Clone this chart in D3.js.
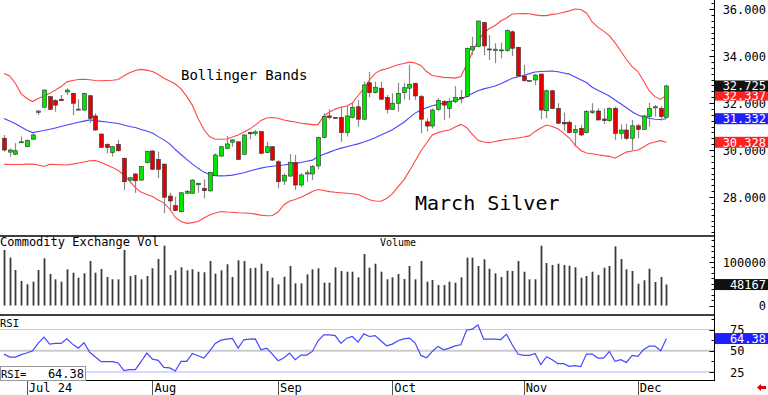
<!DOCTYPE html>
<html><head><meta charset="utf-8">
<script src="https://cdn.jsdelivr.net/npm/d3@7/dist/d3.min.js"></script>
<style>
html,body{margin:0;padding:0;background:#fff;}
svg{display:block;font-family:"DejaVu Sans Mono",monospace;}
</style></head>
<body><svg id="c" width="768" height="395"></svg>
<script>
// ---------- DATA (March Silver, daily) ----------
const opens = [30.50,29.91,29.82,30.31,30.14,30.46,31.60,31.82,32.27,32.10,32.16,32.47,32.41,31.71,31.70,32.31,31.45,30.68,30.24,29.89,30.24,29.65,28.72,28.98,28.72,29.46,29.96,29.60,29.40,28.04,27.63,27.37,28.16,28.16,28.52,28.37,28.26,28.91,29.74,30.07,30.33,30.35,29.82,30.74,30.71,30.78,29.89,30.14,29.50,28.68,28.89,29.46,28.51,28.98,28.98,29.32,30.54,31.45,31.39,31.39,30.74,31.39,31.84,31.31,32.86,32.44,32.63,32.24,31.73,31.99,32.44,32.63,32.84,32.27,31.20,31.02,31.73,32.06,31.77,32.06,32.24,32.27,34.26,34.40,35.42,34.30,34.23,34.24,34.23,35.03,34.37,33.15,32.94,32.98,33.23,31.67,32.52,31.77,31.18,31.18,30.74,30.92,30.74,31.59,31.66,31.32,31.25,31.77,30.71,30.85,30.50,31.03,30.88,31.42,31.79,31.77,31.39];
const highs = [30.64,30.07,30.29,30.57,30.46,30.71,31.70,32.58,32.30,32.16,32.34,32.63,32.43,32.16,32.44,32.34,31.56,30.70,30.29,30.17,30.43,29.67,28.84,29.01,29.31,29.96,29.98,29.93,29.42,28.18,28.01,28.20,28.30,28.75,28.61,28.75,29.08,29.86,30.17,30.60,30.46,30.36,30.67,30.78,30.85,30.80,30.35,30.17,29.57,29.01,29.83,29.79,29.01,29.15,29.36,30.57,31.56,31.73,31.40,31.87,31.91,32.01,32.13,32.91,33.33,32.91,32.91,32.34,32.41,32.86,32.86,33.62,32.86,32.34,31.35,31.77,32.20,32.13,32.20,32.72,32.55,34.35,34.82,35.50,35.46,34.89,34.54,34.57,35.14,35.08,34.40,33.62,32.98,33.23,33.26,32.58,32.55,31.99,31.59,31.25,31.06,31.06,31.70,31.99,31.77,31.77,31.82,31.84,31.09,31.11,31.28,31.11,31.49,32.01,31.91,31.87,32.78];
const lows = [29.93,29.72,29.79,30.29,30.12,30.43,31.49,31.82,31.70,31.63,32.08,32.34,31.49,31.70,31.67,31.14,30.82,30.09,29.86,29.72,29.93,28.30,28.58,28.18,28.70,29.43,29.16,28.80,27.31,27.45,27.40,27.35,28.13,28.13,28.18,27.94,28.23,28.89,29.72,30.05,30.14,29.58,29.79,30.46,30.60,29.84,29.86,29.54,28.37,28.51,28.86,28.30,28.44,28.65,28.72,29.18,30.50,31.31,31.35,30.35,30.57,31.35,30.99,31.28,32.24,32.41,32.14,31.56,31.70,31.63,32.16,32.13,32.13,30.71,30.78,30.92,31.67,31.28,31.35,31.99,31.99,32.24,34.04,34.38,34.04,33.83,33.69,33.90,34.18,34.00,33.11,32.91,32.92,32.77,31.31,31.35,31.75,31.11,30.82,30.71,30.14,30.60,30.71,31.53,31.25,31.11,31.20,30.43,30.46,30.43,30.00,30.50,30.85,30.99,31.42,31.25,31.35];
const closes = [30.00,30.00,29.97,30.35,30.40,30.64,31.66,32.55,31.73,31.91,32.10,32.55,31.99,31.74,32.41,31.35,30.85,30.11,30.10,30.14,29.97,28.65,28.82,28.69,29.29,29.93,29.18,29.18,27.99,27.83,27.42,28.18,28.23,28.72,28.58,28.27,29.05,29.79,30.14,30.26,30.43,29.60,30.64,30.69,30.77,29.86,30.14,29.57,28.65,28.91,29.48,28.51,28.94,29.03,29.29,30.54,31.42,31.39,31.37,30.74,31.45,31.82,31.31,32.77,32.44,32.67,32.16,31.73,31.99,32.41,32.65,32.80,32.30,31.31,31.02,31.70,32.10,31.91,32.06,32.23,32.22,34.33,34.40,35.49,34.43,34.28,34.29,34.26,35.08,34.33,33.15,32.95,32.96,33.19,31.70,32.52,31.77,31.14,31.11,30.74,30.88,30.64,31.63,31.66,31.28,31.25,31.77,30.71,30.85,30.50,31.03,30.88,31.45,31.77,31.84,31.42,32.725];
const bbUpper = [33.26,33.15,32.83,32.40,32.19,32.06,32.19,32.30,32.41,32.55,32.70,32.90,32.96,33.00,33.01,32.99,32.96,32.95,32.96,32.97,33.00,33.16,33.29,33.38,33.43,33.40,33.34,33.21,33.05,32.94,32.81,32.60,32.28,31.90,31.33,30.87,30.57,30.46,30.46,30.47,30.55,30.64,30.77,30.89,31.06,31.26,31.36,31.38,31.35,31.28,31.23,31.19,31.14,31.11,31.08,31.08,31.45,31.62,31.74,31.82,31.87,32.00,32.32,32.60,32.98,33.26,33.40,33.46,33.54,33.63,33.68,33.74,33.70,33.60,33.34,33.17,33.13,33.09,33.08,33.06,33.13,33.62,34.15,34.64,34.98,35.17,35.30,35.49,35.62,35.79,35.80,35.81,35.80,35.75,35.72,35.72,35.77,35.80,35.86,35.92,36.00,35.98,35.83,35.45,35.23,35.06,34.87,34.57,34.21,33.85,33.55,33.34,32.94,32.51,32.27,32.15,32.337];
const bbMiddle = [31.34,31.23,31.12,30.98,30.84,30.74,30.79,30.83,30.88,30.94,31.00,31.06,31.12,31.18,31.23,31.28,31.25,31.22,31.19,31.16,31.13,31.06,31.00,30.96,30.87,30.81,30.72,30.57,30.43,30.26,30.02,29.81,29.60,29.40,29.22,29.06,28.96,28.91,28.90,28.91,28.93,28.98,29.03,29.11,29.17,29.23,29.28,29.31,29.34,29.36,29.40,29.43,29.47,29.52,29.57,29.71,29.82,29.91,30.00,30.08,30.14,30.20,30.26,30.34,30.43,30.52,30.64,30.74,30.86,31.02,31.17,31.38,31.57,31.70,31.80,31.88,31.94,31.99,32.05,32.11,32.17,32.28,32.40,32.52,32.60,32.66,32.72,32.82,32.94,33.05,33.12,33.17,33.25,33.32,33.34,33.35,33.36,33.33,33.28,33.23,33.11,32.99,32.87,32.67,32.54,32.43,32.30,32.13,31.97,31.80,31.63,31.49,31.41,31.35,31.31,31.30,31.332];
const bbLower = [29.40,29.38,29.38,29.38,29.40,29.40,29.36,29.30,29.39,29.38,29.37,29.36,29.40,29.45,29.49,29.54,29.55,29.47,29.36,29.26,29.13,28.94,28.68,28.40,28.21,28.11,28.02,27.87,27.75,27.49,27.13,26.96,26.88,26.91,26.96,27.11,27.23,27.32,27.38,27.36,27.35,27.33,27.32,27.31,27.27,27.23,27.20,27.21,27.36,27.66,27.83,27.89,27.99,28.11,28.23,28.32,28.28,28.23,28.20,28.18,28.16,28.14,28.11,28.00,27.88,27.83,27.82,27.94,28.13,28.43,28.72,29.11,29.53,29.96,30.30,30.64,30.74,30.81,30.85,30.98,31.09,30.96,30.68,30.41,30.34,30.31,30.36,30.41,30.45,30.48,30.51,30.55,30.60,30.79,30.94,31.06,31.00,30.90,30.72,30.51,30.21,29.98,29.87,29.84,29.80,29.76,29.73,29.65,29.79,29.91,29.96,30.00,30.13,30.28,30.34,30.40,30.328];
const volumes = [127600,110000,81600,56300,48700,54700,81600,108500,72400,60200,54700,83200,75400,63900,74000,102300,75400,83900,65500,60200,60200,127600,67800,70100,60200,67800,85500,106900,137500,70100,80900,87800,80900,83200,77700,76300,102300,73100,80900,94700,65500,103900,102300,85500,86900,96100,79300,63900,48700,66200,90800,51000,51000,71700,83200,85500,52400,52400,87800,79300,77700,77700,64800,118400,86900,96100,77700,60200,64800,72400,60900,90800,60200,102300,54700,58600,47100,47100,54700,52400,64800,110000,110000,90800,106200,84600,74000,65500,80000,79300,102300,77700,60200,60200,137500,97700,93100,96100,93100,91500,87800,63900,67800,77700,70100,86900,90800,136000,106900,83200,79300,50100,57900,84600,54000,65500,48167];
const rsi = [46.0,42.6,42.6,45.5,47.3,50.0,59.0,66.0,57.8,58.6,58.6,64.0,57.8,53.1,59.4,48.4,42.6,37.1,37.1,37.1,35.6,26.6,27.8,27.8,37.1,47.3,40.2,38.7,30.5,29.8,26.2,37.5,37.5,46.9,44.1,41.4,49.6,58.6,62.5,63.6,64.4,53.1,62.9,63.6,64.0,51.2,53.1,46.1,38.3,41.4,47.3,39.5,44.9,44.9,49.2,61.7,68.7,68.7,67.9,58.6,64.8,66.8,60.1,69.9,66.8,67.9,61.7,55.8,57.8,61.7,64.0,64.8,59.0,44.5,41.8,49.2,55.1,51.2,53.1,55.8,57.0,74.2,75.4,80.4,63.6,63.6,63.6,63.2,69.5,57.0,46.1,44.5,44.5,46.9,33.6,43.0,39.5,34.8,34.8,31.7,32.5,31.3,46.1,46.1,41.4,41.4,49.2,37.5,39.5,36.3,44.5,43.4,51.2,55.5,55.5,50.0,64.38];
const monthTickIndex = [4,26,48,68,91,111];
const monthTickLabels = ["Jul 24","Aug","Sep","Oct","Nov","Dec"];
const priceTicks = [28,30,32,34,36];
const volumeTicks = [0,100000];
const rsiTicks = [25,50,75];

// ---------- LAYOUT ----------
const svg = d3.select("#c");
const AX = 714.5;
const N = closes.length;
const x = d3.scalePoint().domain(d3.range(N)).range([4, 666.4]);
const yP = d3.scaleLinear().domain([28,36]).range([197,9]);
const yV = d3.scaleLinear().domain([0,100000]).range([305.5,262]);
const yR = d3.scaleLinear().domain([25,75]).range([372,329.5]);

// RSI reference lines
const rsiRef = [{v:75,c:"#ffb4b4",w:1},{v:50,c:"#cccccc",w:2},{v:25,c:"#b4b4ff",w:1}];
svg.selectAll("line.rref").data(rsiRef).join("line")
  .attr("x1",0).attr("x2",AX).attr("y1",d=>yR(d.v)).attr("y2",d=>yR(d.v))
  .attr("stroke",d=>d.c).attr("stroke-width",d=>d.w);

// Bollinger bands
const line = arr => d3.line().x((d,i)=>x(i)).y(d=>yP(d)).curve(d3.curveLinear)(arr);
svg.append("path").attr("d",line(bbUpper)).attr("fill","none").attr("stroke","#ff4646").attr("stroke-width",1.1);
svg.append("path").attr("d",line(bbLower)).attr("fill","none").attr("stroke","#ff4646").attr("stroke-width",1.1);
svg.append("path").attr("d",line(bbMiddle)).attr("fill","none").attr("stroke","#4646ff").attr("stroke-width",1.1);

// Candles
const candles = svg.append("g");
d3.range(N).forEach(i=>{
  const cx = Math.round(x(i))+0.5;
  candles.append("line").attr("x1",cx).attr("x2",cx)
    .attr("y1",yP(highs[i])).attr("y2",yP(lows[i]))
    .attr("stroke","#8a8a8a").attr("stroke-width",1.2);
  const up = closes[i] >= opens[i];
  const top = yP(Math.max(opens[i],closes[i]));
  const bot = yP(Math.min(opens[i],closes[i]));
  candles.append("rect").attr("x",cx-2).attr("width",4)
    .attr("y",top).attr("height",Math.max(1,bot-top))
    .attr("fill",up?"#00e600":"#e60000")
    .attr("stroke","#303030").attr("stroke-width",0.6);
});

// Volume bars
svg.selectAll("line.vol").data(volumes).join("line")
  .attr("x1",(d,i)=>Math.round(x(i))+0.5).attr("x2",(d,i)=>Math.round(x(i))+0.5)
  .attr("y1",yV(0)).attr("y2",d=>yV(d))
  .attr("stroke","#3a3a3a").attr("stroke-width",1.8);

// RSI line
svg.append("path").attr("d",d3.line().x((d,i)=>x(i)).y(d=>yR(d))(rsi))
  .attr("fill","none").attr("stroke","#4646ff").attr("stroke-width",1.2);

// Panel separators
[236,315].forEach(y=>svg.append("line").attr("x1",0).attr("x2",AX).attr("y1",y).attr("y2",y)
  .attr("stroke","#000").attr("stroke-width",1.5));
svg.append("line").attr("x1",0).attr("x2",AX).attr("y1",380.5).attr("y2",380.5).attr("stroke","#000").attr("stroke-width",1);
svg.append("line").attr("x1",AX).attr("x2",AX).attr("y1",0).attr("y2",381).attr("stroke","#000").attr("stroke-width",1);

// Right axes (ticks inside)
const minorP = d3.range(26.5,36.3,0.25);
svg.selectAll("line.mp").data(minorP).join("line")
  .attr("x1",d=>priceTicks.includes(d)?AX-5:AX-3).attr("x2",AX).attr("y1",d=>Math.round(yP(d))+0.5).attr("y2",d=>Math.round(yP(d))+0.5)
  .attr("stroke","#000").attr("stroke-width",1);
const minorV = d3.range(0,160000,12500);
svg.selectAll("line.mv").data(minorV.filter(d=>yV(d)>238)).join("line")
  .attr("x1",d=>volumeTicks.includes(d)?AX-5:AX-3).attr("x2",AX).attr("y1",d=>Math.round(yV(d))+0.5).attr("y2",d=>Math.round(yV(d))+0.5)
  .attr("stroke","#000");
const minorR = d3.range(25,90,12.5);
svg.selectAll("line.mr").data(minorR.filter(d=>yR(d)>317)).join("line")
  .attr("x1",d=>rsiTicks.includes(d)?AX-5:AX-3).attr("x2",AX).attr("y1",d=>Math.round(yR(d))+0.5).attr("y2",d=>Math.round(yR(d))+0.5)
  .attr("stroke","#000");

const lab = svg.append("g").attr("font-size",12).attr("fill","#000");
lab.selectAll("text.p").data(priceTicks).join("text")
  .attr("x",766).attr("y",d=>yP(d)+4.5).attr("text-anchor","end").text(d3.format(".3f"));
lab.selectAll("text.v").data(volumeTicks).join("text")
  .attr("x",766).attr("y",d=>yV(d)+4.5).attr("text-anchor","end").text(d=>d);
lab.selectAll("text.r").data(rsiTicks).join("text")
  .attr("x",730).attr("y",d=>yR(d)+4.5).text(d=>d);

// Value boxes
function box(v, scale, bg, txt){
  const y = scale(v);
  svg.append("rect").attr("x",AX+0.5).attr("y",y-5.5).attr("width",768-AX).attr("height",11).attr("fill",bg);
  svg.append("text").attr("x",766).attr("y",y+4.5).attr("text-anchor","end")
    .attr("font-size",12).attr("fill","#fff").text(txt);
}
const lastI = N-1;
box(bbLower[lastI], yP, "#ff2020", d3.format(".3f")(bbLower[lastI]));
box(bbMiddle[lastI], yP, "#2020ff", d3.format(".3f")(bbMiddle[lastI]));
box(bbUpper[lastI], yP, "#ff2020", d3.format(".3f")(bbUpper[lastI]));
box(closes[lastI], yP, "#111", d3.format(".3f")(closes[lastI]));
box(volumes[lastI], yV, "#111", String(volumes[lastI]));
box(rsi[lastI], yR, "#2020ff", d3.format(".2f")(rsi[lastI]));

// Titles
svg.append("text").attr("x",181).attr("y",80).attr("font-size",14).text("Bollinger Bands");
svg.append("text").attr("x",415).attr("y",210).attr("font-size",20).text("March Silver");
svg.append("text").attr("x",0).attr("y",246).attr("font-size",12).text("Commodity Exchange Vol");
svg.append("text").attr("x",380).attr("y",245.5).attr("font-size",10).text("Volume");
svg.append("rect").attr("x",0).attr("y",317).attr("width",21).attr("height",11).attr("fill","#fff");
svg.append("text").attr("x",0).attr("y",326.5).attr("font-size",10.5).text("RSI");
svg.append("rect").attr("x",0.5).attr("y",366.5).attr("width",85).attr("height",14).attr("fill","#fff").attr("stroke","#999");
svg.append("text").attr("x",1).attr("y",378).attr("font-size",10.5).text("RSI=");
svg.append("text").attr("x",84).attr("y",378).attr("font-size",12).attr("text-anchor","end").text(d3.format(".2f")(rsi[lastI]));

// X axis month ticks
svg.selectAll("line.mt").data(monthTickIndex).join("line")
  .attr("x1",d=>Math.round(x(d))+0.5).attr("x2",d=>Math.round(x(d))+0.5).attr("y1",381).attr("y2",395)
  .attr("stroke","#555");
svg.selectAll("text.mt").data(monthTickIndex).join("text")
  .attr("x",d=>x(d)+2).attr("y",392).attr("font-size",12).text((d,i)=>monthTickLabels[i]);

// red arrow
svg.append("path").attr("d","M757,387.5 L761,384 L761,386 L766,386 L766,389 L761,389 L761,391 Z").attr("fill","#e00000");
</script></body></html>
